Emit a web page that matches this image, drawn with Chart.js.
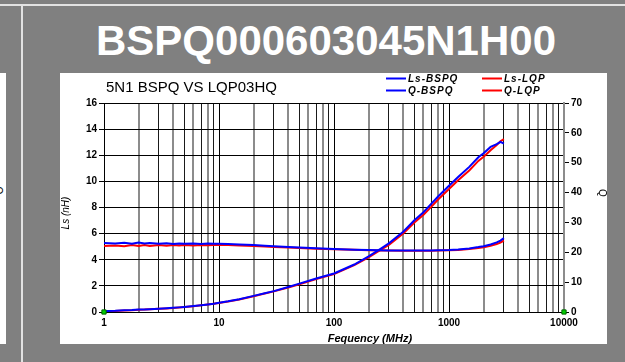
<!DOCTYPE html>
<html><head><meta charset="utf-8">
<script src="https://cdn.jsdelivr.net/npm/chart.js@4/dist/chart.umd.min.js"></script>
<style>
html,body{margin:0;padding:0;}
body{width:625px;height:362px;background:#808080;position:relative;overflow:hidden;font-family:"Liberation Sans",Arial,sans-serif;}
#topline{position:absolute;left:0;top:4px;width:625px;height:2px;background:#e2e2e2;}
#vline{position:absolute;left:21px;top:4px;width:2px;height:358px;background:#e2e2e2;}
#leftpanel{position:absolute;left:0;top:73px;width:6px;height:271px;background:#fff;overflow:hidden;}
#leftq{position:absolute;left:-5px;top:112px;font:10px "Liberation Sans",Arial,sans-serif;color:#000;transform:rotate(90deg);}
#bigtitle{position:absolute;left:96px;top:20px;font:bold 42px/42px "Liberation Sans",Arial,sans-serif;color:#fff;white-space:nowrap;}
#panel{position:absolute;left:60px;top:73px;width:547px;height:271px;background:#fff;}
canvas{display:block;}
</style></head>
<body>
<div id="topline"></div>
<div id="vline"></div>
<div id="leftpanel"><span id="leftq">Q</span></div>
<div id="bigtitle">BSPQ000603045N1H00</div>
<div id="panel"><canvas id="c" width="547" height="271"></canvas></div>
<script>
// ---- data ----
const chartTitle = "5N1 BSPQ VS LQP03HQ";
const xTitle = "Fequency (MHz)";
const yTitle = "Ls (nH)";
const y1Title = "Q";
const xTickLabels = [1, 10, 100, 1000, 10000];
const freqMHz = [1, 1.25, 1.5, 1.75, 2, 2.25, 2.5, 3, 3.5, 4, 4.5, 5, 6, 7, 8, 9, 10, 12, 15, 20, 25, 30, 40, 50, 70, 100, 150, 200, 250, 300, 400, 500, 600, 700, 800, 1000, 1200, 1500, 1800, 2000, 2300, 2600, 2800, 3000];
const lsBSPQ = [5.28, 5.25, 5.30, 5.22, 5.32, 5.24, 5.29, 5.22, 5.27, 5.21, 5.25, 5.22, 5.24, 5.21, 5.25, 5.22, 5.22, 5.20, 5.17, 5.13, 5.08, 5.04, 4.98, 4.94, 4.88, 4.82, 4.77, 4.74, 4.72, 4.71, 4.70, 4.70, 4.70, 4.71, 4.72, 4.75, 4.79, 4.87, 4.97, 5.04, 5.17, 5.33, 5.47, 5.65];
const lsLQP  = [5.05, 5.10, 5.04, 5.12, 5.06, 5.13, 5.05, 5.12, 5.08, 5.13, 5.09, 5.12, 5.10, 5.13, 5.11, 5.13, 5.14, 5.12, 5.09, 5.05, 5.01, 4.98, 4.93, 4.90, 4.85, 4.80, 4.76, 4.73, 4.71, 4.70, 4.69, 4.69, 4.69, 4.69, 4.70, 4.72, 4.75, 4.82, 4.90, 4.96, 5.07, 5.20, 5.32, 5.46];
const qBSPQ  = [0.3, 0.4, 0.55, 0.65, 0.8, 0.85, 0.95, 1.1, 1.25, 1.4, 1.55, 1.7, 2.0, 2.3, 2.55, 2.8, 3.1, 3.6, 4.3, 5.4, 6.3, 7.0, 8.4, 9.5, 11.2, 12.9, 15.9, 18.6, 21.0, 23.0, 26.9, 30.7, 33.4, 36.2, 38.6, 42.3, 45.2, 48.6, 51.8, 53.2, 55.3, 56.2, 57.0, 56.4];
const qLQP   = [0.25, 0.35, 0.5, 0.6, 0.75, 0.8, 0.9, 1.05, 1.2, 1.35, 1.5, 1.65, 1.95, 2.25, 2.5, 2.75, 3.0, 3.5, 4.2, 5.3, 6.2, 6.9, 8.2, 9.3, 11.0, 12.7, 15.7, 18.3, 20.6, 22.5, 26.3, 30.0, 32.6, 35.2, 37.6, 41.2, 44.1, 47.4, 50.6, 52.0, 54.2, 55.9, 57.2, 57.9];
const markerX = [1, 10000];
const markerY = [0, 0];

const FONT = '"Liberation Sans", Arial, sans-serif';
const pts = (xs, ys) => xs.map((x, i) => ({x: x, y: ys[i]}));

const legendItems = [
  {label: "Ls-BSPQ", color: "#0000ff"},
  {label: "Ls-LQP", color: "#ff0000"},
  {label: "Q-BSPQ", color: "#0000ff"},
  {label: "Q-LQP", color: "#ff0000"}
];

const textPlugin = {
  id: 'texts',
  afterDraw(chart) {
    const ctx = chart.ctx, ca = chart.chartArea;
    ctx.save();
    ctx.fillStyle = '#000';
    // chart title
    ctx.font = '15px ' + FONT;
    ctx.textAlign = 'left'; ctx.textBaseline = 'alphabetic';
    ctx.fillText(chartTitle, ca.left + 2, 19);
    // legend 2x2
    const colX = [326, 422], rowY = [5.5, 17.5];
    ctx.font = 'italic bold 10px ' + FONT;
    ctx.textBaseline = 'middle';
    try { ctx.letterSpacing = '1px'; } catch (e) {}
    legendItems.forEach((it, i) => {
      const x = colX[i % 2], y = rowY[Math.floor(i / 2)];
      ctx.strokeStyle = it.color; ctx.lineWidth = 2;
      ctx.beginPath(); ctx.moveTo(x, y); ctx.lineTo(x + 20, y); ctx.stroke();
      ctx.fillStyle = '#000';
      ctx.fillText(it.label, x + 22, y + 0.5);
    });
    try { ctx.letterSpacing = '0px'; } catch (e) {}
    // axis titles
    ctx.font = 'italic bold 11px ' + FONT;
    ctx.textAlign = 'center'; ctx.textBaseline = 'middle';
    ctx.fillText(xTitle, ca.left + (ca.right - ca.left) * 0.578, 266);
    ctx.font = 'italic 10px ' + FONT;
    ctx.save(); ctx.translate(6, 140); ctx.rotate(-Math.PI / 2); ctx.fillText(yTitle, 0, 0); ctx.restore();
    ctx.font = '10px ' + FONT;
    ctx.save(); ctx.translate(541.5, 120); ctx.rotate(Math.PI / 2); ctx.fillText(y1Title, 0, 0); ctx.restore();
    ctx.restore();
  }
};

function sig(v) {
  const e = Math.floor(Math.log10(v) + 1e-9);
  return Math.round(v / Math.pow(10, e));
}

new Chart(document.getElementById('c'), {
  type: 'line',
  data: {
    datasets: [
      {label: 'Ls-BSPQ', data: pts(freqMHz, lsBSPQ), yAxisID: 'y', borderColor: '#0000ff', borderWidth: 2, pointRadius: 0, tension: 0},
      {label: 'Q-BSPQ', data: pts(freqMHz, qBSPQ), yAxisID: 'y1', borderColor: '#0000ff', borderWidth: 2, pointRadius: 0, tension: 0},
      {label: 'Ls-LQP', data: pts(freqMHz, lsLQP), yAxisID: 'y', borderColor: '#ff0000', borderWidth: 2, pointRadius: 0, tension: 0},
      {label: 'Q-LQP', data: pts(freqMHz, qLQP), yAxisID: 'y1', borderColor: '#ff0000', borderWidth: 2, pointRadius: 0, tension: 0},
      {label: 'markers', data: pts(markerX, markerY), yAxisID: 'y', showLine: false, pointStyle: 'rect', pointRadius: 3, backgroundColor: '#00d000', borderColor: '#006600', borderWidth: 1, clip: false, order: -1}
    ]
  },
  options: {
    responsive: false,
    animation: false,
    devicePixelRatio: 1,
    layout: {padding: {top: 30, left: 0, right: 0, bottom: 0}},
    plugins: {legend: {display: false}, tooltip: {enabled: false}, title: {display: false}},
    scales: {
      x: {
        type: 'logarithmic', min: 1, max: 10000,
        afterBuildTicks: (scale) => {
          const t = [];
          for (let i = 0; i < xTickLabels.length - 1; i++)
            for (let m = 1; m <= 9; m++) t.push({value: xTickLabels[i] * m});
          t.push({value: xTickLabels[xTickLabels.length - 1]});
          scale.ticks = t;
        },
        afterFit: (scale) => { scale.height = 32; },
        ticks: {
          autoSkip: false, maxRotation: 0, minRotation: 0, padding: 5, color: '#000',
          font: {family: FONT, size: 10, weight: 'bold'},
          callback: (v) => xTickLabels.includes(v) ? String(v) : ''
        },
        grid: {
          drawTicks: false,
          color: (c) => { const v = c.tick ? c.tick.value : 1; if (v === 10000) return '#8c8c8c'; const s = sig(v); return s === 1 ? '#000' : (s % 2 === 0 ? '#8c8c8c' : '#1a1a1a'); },
          lineWidth: (c) => { const v = c.tick ? c.tick.value : 1; if (v === 10000) return 2; const s = sig(v); return (s !== 1 && s % 2 === 0) ? 2 : 1; }
        },
        border: {display: true, color: '#000', width: 1}
      },
      y: {
        type: 'linear', position: 'left', min: 0, max: 16,
        afterFit: (scale) => { scale.width = 44; },
        ticks: {stepSize: 2, padding: 2, color: '#000', font: {family: FONT, size: 10, weight: 'bold'}},
        grid: {color: '#000', lineWidth: 1, drawTicks: true, tickLength: 5},
        border: {display: true, color: '#000', width: 1}
      },
      y1: {
        type: 'linear', position: 'right', min: 0, max: 70,
        afterFit: (scale) => { scale.width = 43; },
        ticks: {stepSize: 10, padding: 2, color: '#000', font: {family: FONT, size: 10, weight: 'bold'}},
        grid: {drawOnChartArea: false, drawTicks: true, tickLength: 5, color: '#000'},
        border: {display: true, color: '#8c8c8c', width: 2}
      }
    }
  },
  plugins: [textPlugin]
});
</script>
</body></html>
